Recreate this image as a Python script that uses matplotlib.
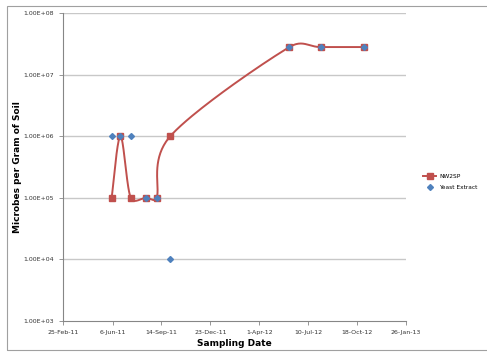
import datetime as dt
import numpy as np
import matplotlib
matplotlib.use('Agg')
import matplotlib.pyplot as plt
import matplotlib.dates as mdates
from matplotlib.ticker import FixedLocator, FuncFormatter
from matplotlib.patches import Rectangle

# Data
nw2sp_dates = ['2011-06-04', '2011-06-22', '2011-07-13', '2011-08-13', '2011-09-04',
               '2011-10-02', '2012-06-02', '2012-08-05', '2012-11-02']
nw2sp_vals = [1e5, 1e6, 1e5, 1e5, 1e5, 1e6, 2.8e7, 2.8e7, 2.8e7]

yeast_dates = ['2011-06-04', '2011-06-22', '2011-07-13', '2011-08-13', '2011-09-04',
               '2011-10-02', '2012-06-02', '2012-08-05', '2012-11-02']
yeast_vals = [1e6, 1e6, 1e6, 1e5, 1e5, 1e4, 2.8e7, 2.8e7, 2.8e7]

# axis starts 25-Feb-11, then ticks every 100 days from 6-Jun-11
x_ticks = [dt.date(2011, 2, 25)] + [dt.date(2011, 6, 6) + dt.timedelta(days=100 * i)
                                    for i in range(7)]
y_ticks = [1e3, 1e4, 1e5, 1e6, 1e7, 1e8]

RED = '#C0504D'
BLUE = '#4F81BD'


def to_num(ds):
    return mdates.date2num([dt.date.fromisoformat(d) for d in ds])


def clip(v, lim):
    n = np.hypot(*v)
    return v * (lim / n) if n > lim else v


def excel_smooth(ax, xs, ys, n=40):
    # smoothed line like Excel: catmull-rom bezier in pixel space
    pts = ax.transData.transform(np.column_stack([xs, ys]))
    out = [pts[0]]
    for i in range(len(pts) - 1):
        p0 = pts[i - 1] if i > 0 else pts[i]
        p1 = pts[i]
        p2 = pts[i + 1]
        p3 = pts[i + 2] if i + 2 < len(pts) else pts[i + 1]
        d12 = np.hypot(*(p2 - p1))
        c1 = p1 + clip((p2 - p0) / 6.0, d12 / 2)
        c2 = p2 - clip((p3 - p1) / 6.0, d12 / 2)
        t = np.linspace(0, 1, n)[1:, None]
        seg = ((1 - t) ** 3 * p1 + 3 * (1 - t) ** 2 * t * c1
               + 3 * (1 - t) * t ** 2 * c2 + t ** 3 * p2)
        out.extend(seg)
    out = np.array(out)
    return ax.transData.inverted().transform(out)


fig = plt.figure(figsize=(4.87, 3.54), dpi=100)
fig.patches.append(Rectangle((7 / 487, 0.01), 1.2, 0.973, transform=fig.transFigure,
                             fill=False, edgecolor='#A0A0A0', linewidth=0.8))

ax = fig.add_axes([63.3 / 487, 33 / 354, 342.4 / 487, 308 / 354])
ax.set_yscale('log')
ax.set_xlim(mdates.date2num(x_ticks[0]), mdates.date2num(x_ticks[-1]))
ax.set_ylim(1e3, 1e8)

for s in ['top', 'right']:
    ax.spines[s].set_visible(False)
ax.spines['left'].set_color('#868686')
ax.spines['bottom'].set_color('#868686')
ax.spines['left'].set_linewidth(0.8)
ax.spines['bottom'].set_linewidth(0.8)

for yv in y_ticks[1:]:
    ax.axhline(yv, color='#C8C8C8', linewidth=1.0, zorder=0)

ax.xaxis.set_major_locator(FixedLocator(mdates.date2num(x_ticks)))
ax.xaxis.set_major_formatter(FuncFormatter(
    lambda v, p: f"{mdates.num2date(v).day}-{mdates.num2date(v).strftime('%b-%y')}"))
ax.yaxis.set_major_locator(FixedLocator(y_ticks))
ax.yaxis.set_minor_locator(FixedLocator([]))
ax.yaxis.set_major_formatter(FuncFormatter(lambda v, p: f"{v:.2E}"))
ax.tick_params(axis='both', labelsize=4.5, colors='#868686', length=3, width=0.6,
               labelcolor='#333333')

nx = to_num(nw2sp_dates)
sm = excel_smooth(ax, nx, np.array(nw2sp_vals))
ax.plot(sm[:, 0], sm[:, 1], color=RED, linewidth=1.4, zorder=3)
ax.plot(nx, nw2sp_vals, linestyle='none', marker='s', markersize=4.2,
        color=RED, zorder=4)
ax.plot(to_num(yeast_dates), yeast_vals, linestyle='none', marker='D', markersize=3,
        color=BLUE, zorder=5)

ax.set_xlabel('Sampling Date', fontsize=6.5, fontweight='bold', labelpad=3)
ax.set_ylabel('Microbes per Gram of Soil', fontsize=6.5, fontweight='bold', labelpad=1)

h1 = plt.Line2D([], [], color=RED, linewidth=1.4, marker='s', markersize=4)
h2 = plt.Line2D([], [], color=BLUE, linestyle='none', marker='D', markersize=3)
fig.legend([h1, h2], ['NW2SP', 'Yeast Extract'], loc='center left',
           bbox_to_anchor=(418 / 487, 1 - 182 / 354), frameon=False,
           fontsize=4.2, handlelength=2.2, labelspacing=0.9, handletextpad=0.5)

fig.savefig('out.png', dpi=100)
